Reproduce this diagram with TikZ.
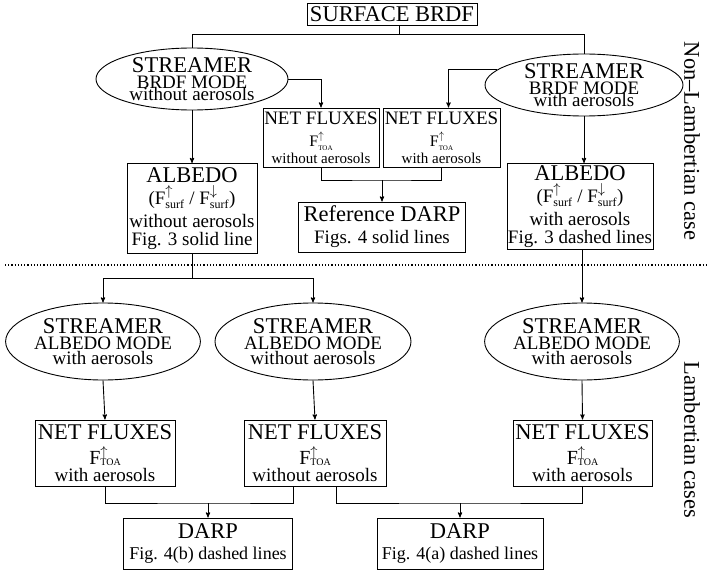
\documentclass[tikz,border=0pt]{standalone}
\usepackage{fontspec}
\setmainfont{Liberation Serif}
\usepackage{tikz}
\usetikzlibrary{arrows,shapes.geometric}
\setlength{\lineskiplimit}{-30pt}

\newcommand\bigf{\fontsize{22.5}{15}\selectfont}
\newcommand\midf{\fontsize{19}{15}\selectfont}
\newcommand\smallf{\fontsize{15}{12}\selectfont}
% F with up arrow and TOA: #1 size of TOA, #2 drop of TOA
\newcommand\ftoa[2]{F\rlap{$^{\uparrow}$}\raisebox{-#2}{\fontsize{#1}{#1}\selectfont TOA}}
\newcommand\fsurf[1]{F$^{#1}_{\mbox{\fontsize{12}{12}\selectfont surf}}$}

\tikzset{
  stream/.style={ellipse,draw,inner sep=0pt,align=center,font=\fontsize{19}{15}\selectfont},
  box/.style={rectangle,draw,inner sep=0pt,align=center,font=\fontsize{19}{21}\selectfont},
}

\begin{document}
\begin{tikzpicture}[x=1pt,y=-1pt,>=stealth',line width=0.9pt]
    \useasboundingbox (0,0) rectangle (709,575);

    % non-Lambertian part
    \node[box,minimum width=170,minimum height=22] (surf) at (392,14) {{\bigf SURFACE BRDF}};
    \node[stream,minimum width=192,minimum height=62] (lstream) at (192,79)
      {{\bigf STREAMER}\\[1pt]BRDF MODE\\[-3pt]without aerosols};
    \node[stream,minimum width=198,minimum height=62] (rstream) at (584,85)
      {{\bigf STREAMER}\\[1pt]BRDF MODE\\[-3pt]with aerosols};
    \node[box,minimum width=116,minimum height=59,font=\fontsize{19}{15}\selectfont] (lnf) at (321,137.5)
      {NET FLUXES\\[7pt]{\fontsize{16}{16}\selectfont\ftoa{7}{4pt}}\\[2pt]{\smallf without aerosols}};
    \node[box,minimum width=117,minimum height=59,font=\fontsize{19}{15}\selectfont] (rnf) at (441.5,137.5)
      {NET FLUXES\\[7pt]{\fontsize{16}{16}\selectfont\ftoa{7}{4pt}}\\[2pt]{\smallf with aerosols}};
    \node[box,minimum width=167,minimum height=50,font=\fontsize{19}{22}\selectfont] (refd) at (382,227)
      {{\bigf Reference DARP}\\Figs. 4 solid lines};
    \node[box,minimum width=130,minimum height=90] (lalb) at (192,208.5)
      {{\bigf ALBEDO}\\[1pt](\fsurf{\uparrow} / \fsurf{\downarrow})\\[2pt]without aerosols\\[-3pt]Fig. 3 solid line};
    \node[box,minimum width=146,minimum height=86] (ralb) at (580,206.5)
      {{\bigf ALBEDO}\\[1pt](\fsurf{\uparrow} / \fsurf{\downarrow})\\[2pt]with aerosols\\[-3pt]Fig. 3 dashed lines};

    \draw ([xshift=7pt]surf.south) -- ++(0,9) coordinate (jtop);
    \draw (lstream.north) |- (jtop) -| (rstream.north);
    \draw[->] (lstream.east) -| (lnf.north);
    \draw[->] (rstream.170) -| ([xshift=7pt]rnf.north);
    \coordinate (mtop) at (refd.north |- 0,180);
    \draw (lnf.south) |- (mtop) -| (rnf.south);
    \draw[->] (mtop) -- (refd.north);
    \draw[->] (lstream.south) -- (lalb.north);
    \draw[->] (rstream.south) -- (rstream.south |- ralb.north);

    \draw[dotted,line width=1.2pt] (5,265) -- (709,265);

    % Lambertian part
    \node[stream,minimum width=194,minimum height=77] (lalbs) at (103,341.5)
      {{\bigf STREAMER}\\[1pt]ALBEDO MODE\\with aerosols};
    \node[stream,minimum width=196,minimum height=77] (malbs) at (313,341.5)
      {{\bigf STREAMER}\\[1pt]ALBEDO MODE\\without aerosols};
    \node[stream,minimum width=193,minimum height=77] (ralbs) at (582,341.5)
      {{\bigf STREAMER}\\[1pt]ALBEDO MODE\\with aerosols};
    \node[box,minimum width=140,minimum height=66,font=\fontsize{19}{17}\selectfont] (lnfa) at (105,453)
      {{\bigf NET FLUXES}\\[8pt]{\fontsize{20}{20}\selectfont\ftoa{10}{1pt}}\\with aerosols};
    \node[box,minimum width=142,minimum height=66,font=\fontsize{19}{17}\selectfont] (mnf) at (315,453)
      {{\bigf NET FLUXES}\\[8pt]{\fontsize{20}{20}\selectfont\ftoa{10}{1pt}}\\without aerosols};
    \node[box,minimum width=139,minimum height=66,font=\fontsize{19}{17}\selectfont] (rnfa) at (582.5,453)
      {{\bigf NET FLUXES}\\[8pt]{\fontsize{20}{20}\selectfont\ftoa{10}{1pt}}\\with aerosols};
    \node[box,minimum width=169,minimum height=51,font=\fontsize{18}{21}\selectfont] (ldarp) at (208,543.5)
      {{\bigf DARP}\\Fig. 4(b) dashed lines};
    \node[box,minimum width=166,minimum height=51,font=\fontsize{18}{21}\selectfont] (rdarp) at (460,543.5)
      {{\bigf DARP}\\Fig. 4(a) dashed lines};

    \coordinate (jmid) at (lalb.south |- 0,278);
    \draw (lalb.south) -- (jmid);
    \draw[->] (jmid) -| (lalbs.north);
    \draw[->] (jmid) -| (malbs.north);
    \draw[->] (ralb.south -| ralbs.north) -- (ralbs.north);
    \draw[->] (lalbs.south) -- (lnfa.north);
    \draw[->] (malbs.south) -- (mnf.north);
    \draw[->] (ralbs.south) -- (rnfa.north);
    \coordinate (mlow) at (ldarp.north |- 0,503);
    \draw (lnfa.south) |- (mlow) -| ([xshift=-22pt]mnf.south);
    \draw[->] (mlow) -- (ldarp.north);
    \coordinate (rlow) at (rdarp.north |- 0,503);
    \draw ([xshift=21pt]mnf.south) |- (rlow) -| (rnfa.south);
    \draw[->] (rlow) -- (rdarp.north);

    % side labels
    \node[rotate=-90,font=\bigf] (nonlam) at (692,141) {Non--Lambertian case};
    \node[rotate=-90,font=\bigf] (lam) at (692,440) {Lambertian cases};
\end{tikzpicture}
\end{document}
